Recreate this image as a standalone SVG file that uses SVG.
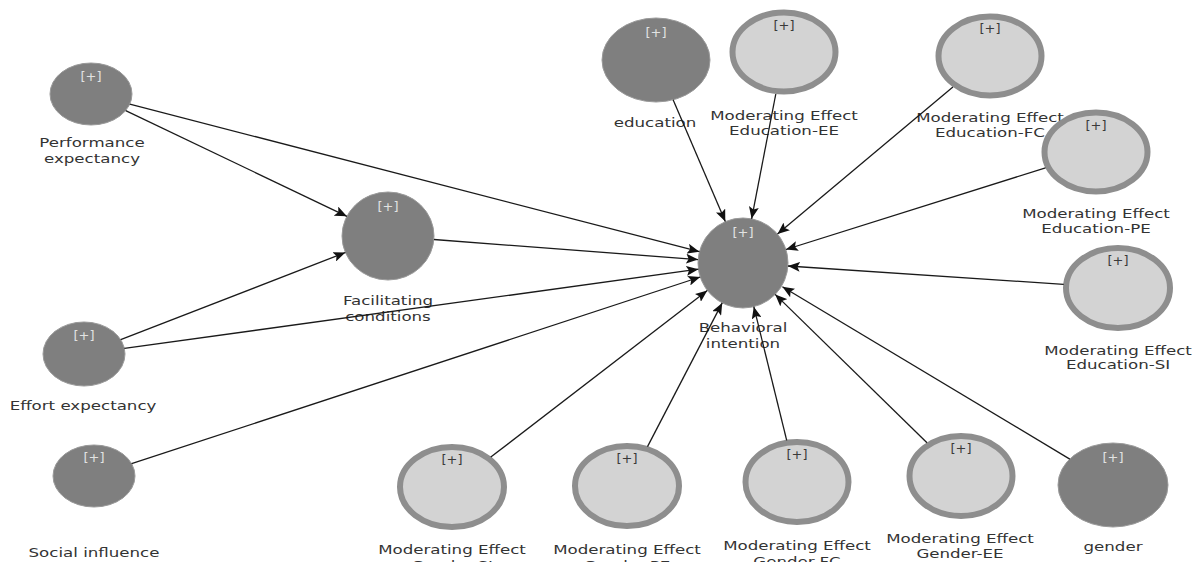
<svg xmlns="http://www.w3.org/2000/svg" width="1192" height="562" viewBox="0 0 1192 562">
<defs>
<style>
.dark{fill:#7f7f7f;stroke:#9a9a9a;stroke-width:1}
.light{fill:#d3d3d3;stroke:#8e8e8e;stroke-width:6}
.lbl{font-family:"DejaVu Sans",Verdana,sans-serif;font-size:13px;fill:#333;text-anchor:middle}
.pd{font-family:"DejaVu Sans",Verdana,sans-serif;font-size:13px;fill:#e2e2e2;text-anchor:middle}
.pl{font-family:"DejaVu Sans",Verdana,sans-serif;font-size:13px;fill:#3a3a3a;text-anchor:middle}
.edge{stroke:#1a1a1a;stroke-width:1.3;fill:none;marker-end:url(#arr)}
</style>
<marker id="arr" markerWidth="13" markerHeight="10" refX="12" refY="5" orient="auto" markerUnits="userSpaceOnUse">
<path d="M0,0 L12,5 L0,10 L2.5,5 z" fill="#111"/>
</marker>
</defs>
<rect width="1192" height="562" fill="#fff"/>

<g id="PE">
<ellipse class="dark" cx="91" cy="94" rx="41" ry="31"/>
<text class="pd" x="91" y="81">[+]</text>
<g transform="translate(92,0) scale(1.28,1)"><text class="lbl" x="0" y="147">Performance</text><text class="lbl" x="0" y="163">expectancy</text></g>
</g>
<g id="FC">
<ellipse class="dark" cx="388" cy="236" rx="46" ry="44"/>
<text class="pd" x="388" y="211">[+]</text>
<g transform="translate(388,0) scale(1.28,1)"><text class="lbl" x="0" y="305">Facilitating</text><text class="lbl" x="0" y="321">conditions</text></g>
</g>
<g id="EE">
<ellipse class="dark" cx="84" cy="354" rx="41" ry="32"/>
<text class="pd" x="84" y="340">[+]</text>
<g transform="translate(83,0) scale(1.28,1)"><text class="lbl" x="0" y="410">Effort expectancy</text></g>
</g>
<g id="SI">
<ellipse class="dark" cx="94" cy="476" rx="41" ry="31"/>
<text class="pd" x="94" y="462">[+]</text>
<g transform="translate(94,0) scale(1.28,1)"><text class="lbl" x="0" y="557">Social influence</text></g>
</g>
<g id="BI">
<ellipse class="dark" cx="743" cy="263" rx="45" ry="45"/>
<text class="pd" x="743" y="237">[+]</text>
<g transform="translate(743,0) scale(1.28,1)"><text class="lbl" x="0" y="332">Behavioral</text><text class="lbl" x="0" y="348">intention</text></g>
</g>
<g id="education">
<ellipse class="dark" cx="656" cy="60" rx="54" ry="42"/>
<text class="pd" x="656" y="37">[+]</text>
<g transform="translate(655,0) scale(1.28,1)"><text class="lbl" x="0" y="127">education</text></g>
</g>
<g id="EduEE">
<ellipse class="light" cx="784" cy="52" rx="51.5" ry="39.5"/>
<text class="pl" x="784" y="30">[+]</text>
<g transform="translate(784,0) scale(1.28,1)"><text class="lbl" x="0" y="120">Moderating Effect</text><text class="lbl" x="0" y="135">Education-EE</text></g>
</g>
<g id="EduFC">
<ellipse class="light" cx="990" cy="56" rx="51.5" ry="39.5"/>
<text class="pl" x="990" y="33">[+]</text>
<g transform="translate(990,0) scale(1.28,1)"><text class="lbl" x="0" y="122">Moderating Effect</text><text class="lbl" x="0" y="137">Education-FC</text></g>
</g>
<g id="EduPE">
<ellipse class="light" cx="1096" cy="152" rx="51.5" ry="39.5"/>
<text class="pl" x="1096" y="130">[+]</text>
<g transform="translate(1096,0) scale(1.28,1)"><text class="lbl" x="0" y="218">Moderating Effect</text><text class="lbl" x="0" y="233">Education-PE</text></g>
</g>
<g id="EduSI">
<ellipse class="light" cx="1118" cy="288" rx="52" ry="40"/>
<text class="pl" x="1118" y="265">[+]</text>
<g transform="translate(1118,0) scale(1.28,1)"><text class="lbl" x="0" y="355">Moderating Effect</text><text class="lbl" x="0" y="369">Education-SI</text></g>
</g>
<g id="GSI">
<ellipse class="light" cx="452" cy="487" rx="52" ry="40"/>
<text class="pl" x="452" y="464">[+]</text>
<g transform="translate(452,0) scale(1.28,1)"><text class="lbl" x="0" y="554">Moderating Effect</text><text class="lbl" x="0" y="570">Gender-SI</text></g>
</g>
<g id="GPE">
<ellipse class="light" cx="627" cy="486" rx="52" ry="40"/>
<text class="pl" x="627" y="463">[+]</text>
<g transform="translate(627,0) scale(1.28,1)"><text class="lbl" x="0" y="554">Moderating Effect</text><text class="lbl" x="0" y="570">Gender-PE</text></g>
</g>
<g id="GFC">
<ellipse class="light" cx="797" cy="482" rx="51.5" ry="40"/>
<text class="pl" x="797" y="459">[+]</text>
<g transform="translate(797,0) scale(1.28,1)"><text class="lbl" x="0" y="550">Moderating Effect</text><text class="lbl" x="0" y="566">Gender-FC</text></g>
</g>
<g id="GEE">
<ellipse class="light" cx="961" cy="476" rx="51.5" ry="40"/>
<text class="pl" x="961" y="453">[+]</text>
<g transform="translate(960,0) scale(1.28,1)"><text class="lbl" x="0" y="543">Moderating Effect</text><text class="lbl" x="0" y="558">Gender-EE</text></g>
</g>
<g id="gender">
<ellipse class="dark" cx="1113" cy="485" rx="55" ry="42"/>
<text class="pd" x="1113" y="462">[+]</text>
<g transform="translate(1113,0) scale(1.28,1)"><text class="lbl" x="0" y="551">gender</text></g>
</g>

<g id="connectors">
<line class="edge" x1="125.7" y1="110.6" x2="346.9" y2="216.3"/>
<line class="edge" x1="120.7" y1="339.7" x2="345.4" y2="252.5"/>
<line class="edge" x1="129.8" y1="104.1" x2="699.4" y2="251.7"/>
<line class="edge" x1="433.9" y1="239.5" x2="698.1" y2="259.6"/>
<line class="edge" x1="124.4" y1="348.4" x2="698.4" y2="269.2"/>
<line class="edge" x1="131.6" y1="463.7" x2="700.2" y2="277.0"/>
<line class="edge" x1="673.1" y1="99.8" x2="725.3" y2="221.6"/>
<line class="edge" x1="775.8" y1="94.0" x2="751.6" y2="218.8"/>
<line class="edge" x1="952.9" y1="87.1" x2="777.5" y2="234.1"/>
<line class="edge" x1="1045.5" y1="167.9" x2="785.9" y2="249.5"/>
<line class="edge" x1="1063.7" y1="284.4" x2="787.9" y2="266.0"/>
<line class="edge" x1="490.8" y1="457.1" x2="707.3" y2="290.6"/>
<line class="edge" x1="647.5" y1="446.6" x2="722.2" y2="302.9"/>
<line class="edge" x1="786.7" y1="440.3" x2="753.8" y2="306.7"/>
<line class="edge" x1="927.0" y1="442.8" x2="775.2" y2="294.4"/>
<line class="edge" x1="1069.8" y1="459.1" x2="782.4" y2="286.8"/>
</g>
</svg>
